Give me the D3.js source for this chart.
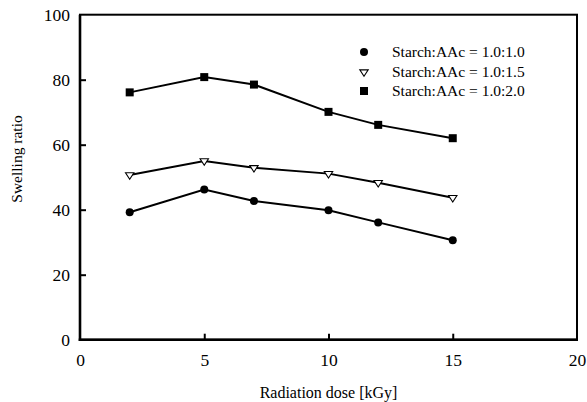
<!DOCTYPE html>
<html><head><meta charset="utf-8">
<script src="https://cdn.jsdelivr.net/npm/d3@7"></script>
<style>body{margin:0;background:#fff}svg{display:block}svg text{font-family:"Liberation Serif","Times New Roman",serif !important;fill:#000}</style>
</head><body>
<svg id="c" width="587" height="402"></svg>
<script>
const doses = [2, 5, 7, 10, 12, 15];
const ratio10 = [39.2, 46.2, 42.7, 39.8, 36.1, 30.6];
const ratio15 = [50.7, 55.0, 52.9, 51.1, 48.3, 43.7];
const ratio20 = [76.1, 80.8, 78.5, 70.1, 66.1, 62.0];
const seriesNames = ["Starch:AAc = 1.0:1.0", "Starch:AAc = 1.0:1.5", "Starch:AAc = 1.0:2.0"];
const xTicks = [0, 5, 10, 15, 20];
const yTicks = [0, 20, 40, 60, 80, 100];
const xTitle = "Radiation dose [kGy]";
const yTitle = "Swelling ratio";

const svg = d3.select("#c");
const L = 80, R = 577, T = 14.7, B = 339.7;
const x = d3.scaleLinear().domain([0, 20]).range([L, R]);
const y = d3.scaleLinear().domain([0, 100]).range([B, T]);

// frame
svg.append("rect").attr("x", L).attr("y", T).attr("width", R - L).attr("height", B - T)
  .attr("fill", "none").attr("stroke", "#000").attr("stroke-width", 2);
svg.append("line").attr("x1", L).attr("x2", L).attr("y1", T).attr("y2", B + 1.2).attr("stroke", "#000").attr("stroke-width", 2.6);
svg.append("line").attr("x1", L - 1.3).attr("x2", R + 1).attr("y1", B).attr("y2", B).attr("stroke", "#000").attr("stroke-width", 2.6);

// axes with inward ticks
const xAxis = d3.axisBottom(x).tickValues(xTicks).tickSize(0).tickPadding(0).tickFormat(d3.format("d"));
const gx = svg.append("g").attr("transform", `translate(0,${B})`).call(xAxis);
gx.attr("font-family", null).attr("font-size", null);
gx.select(".domain").remove();
gx.selectAll("text").style("font-size", "17.5px").attr("dy", null).attr("y", 26);
gx.selectAll(".tick").filter(d => d > 0 && d < 20).append("line").attr("y1", 0).attr("y2", -6).attr("stroke", "#000").attr("stroke-width", 2);

const yAxis = d3.axisLeft(y).tickValues(yTicks).tickSize(0).tickPadding(0).tickFormat(d3.format("d"));
const gy = svg.append("g").attr("transform", `translate(${L},0)`).call(yAxis);
gy.attr("font-family", null).attr("font-size", null);
gy.select(".domain").remove();
gy.selectAll("text").style("font-size", "17.5px").attr("x", -10).attr("dy", "0.33em");
gy.selectAll(".tick").filter(d => d > 0 && d < 100).append("line").attr("x1", 0).attr("x2", 6).attr("stroke", "#000").attr("stroke-width", 2);

svg.append("text").attr("x", (L + R) / 2).attr("y", 398).attr("text-anchor", "middle").style("font-size", "16px").text(xTitle);
svg.append("text").attr("transform", "translate(22,159) rotate(-90)").attr("text-anchor", "middle").style("font-size", "15.5px").text(yTitle);

const data = [ratio10, ratio15, ratio20];
const line = d3.line().x((d, i) => x(doses[i])).y(d => y(d));
data.forEach(s => {
  svg.append("path").attr("d", line(s)).attr("fill", "none").attr("stroke", "#000").attr("stroke-width", 2);
});

function marker(g, k, cx, cy) {
  if (k === 0) g.append("circle").attr("cx", cx).attr("cy", cy).attr("r", 4).attr("fill", "#000");
  else if (k === 1) {
    const w = 4.2, h = 6.5;
    g.append("path").attr("d", `M${cx - w},${cy - h / 3}L${cx + w},${cy - h / 3}L${cx},${cy + 2 * h / 3}Z`)
      .attr("fill", "#fff").attr("stroke", "#000").attr("stroke-width", 1.1);
  } else g.append("rect").attr("x", cx - 4).attr("y", cy - 4).attr("width", 8).attr("height", 8).attr("fill", "#000");
}
data.forEach((s, k) => {
  const g = svg.append("g");
  s.forEach((v, i) => marker(g, k, x(doses[i]), y(v)));
});

// legend
const legY = [52, 72, 91];
seriesNames.forEach((n, k) => {
  const g = svg.append("g");
  marker(g, k, 364, legY[k]);
  g.append("text").attr("x", 392).attr("y", legY[k]).attr("dy", "0.35em").style("font-size", "15.5px").text(n);
});
</script>
</body></html>
